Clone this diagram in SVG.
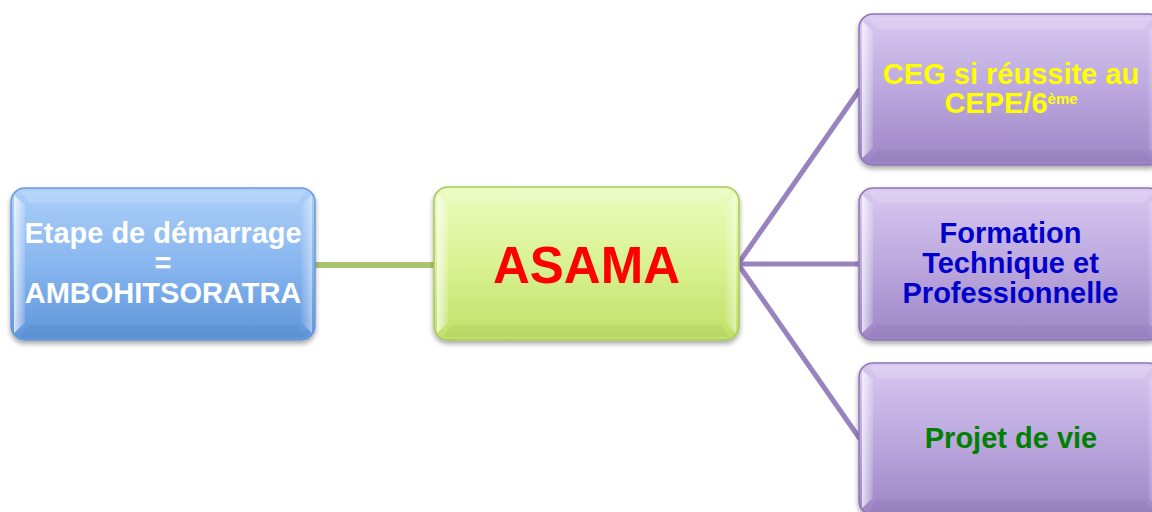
<svg xmlns="http://www.w3.org/2000/svg" width="1152" height="512" viewBox="0 0 1152 512">
  <defs>
    <linearGradient id="gBlue" x1="0" y1="0" x2="0" y2="1">
      <stop offset="0" stop-color="#acd0f9"/>
      <stop offset="0.5" stop-color="#88b6ef"/>
      <stop offset="1" stop-color="#5e95dc"/>
    </linearGradient>
    <linearGradient id="gGreen" x1="0" y1="0" x2="0" y2="1">
      <stop offset="0" stop-color="#ebfcbe"/>
      <stop offset="0.5" stop-color="#d9f292"/>
      <stop offset="1" stop-color="#c0df68"/>
    </linearGradient>
    <linearGradient id="gPurple" x1="0" y1="0" x2="0" y2="1">
      <stop offset="0" stop-color="#d8c9f0"/>
      <stop offset="0.5" stop-color="#bca8de"/>
      <stop offset="1" stop-color="#9d85c6"/>
    </linearGradient>
    <linearGradient id="gEdge" x1="0" y1="0" x2="1" y2="0">
      <stop offset="0" stop-color="#ffffff" stop-opacity="0.75"/>
      <stop offset="1" stop-color="#ffffff" stop-opacity="0.15"/>
    </linearGradient>
    <linearGradient id="gEdgeR" x1="1" y1="0" x2="0" y2="0">
      <stop offset="0" stop-color="#ffffff" stop-opacity="0.45"/>
      <stop offset="1" stop-color="#ffffff" stop-opacity="0.05"/>
    </linearGradient>
    <filter id="shadow" x="-10%" y="-10%" width="120%" height="130%">
      <feDropShadow dx="0" dy="3" stdDeviation="2.5" flood-color="#000" flood-opacity="0.35"/>
    </filter>
  </defs>
  <style>
    .box { stroke-width: 1.5; filter: url(#shadow); }
    .blue { fill: url(#gBlue); stroke: #6a9ad6; }
    .green { fill: url(#gGreen); stroke: #a9c95e; }
    .purple { fill: url(#gPurple); stroke: #8d76b7; }
    .bevL { fill: url(#gEdge); }
    .bevR { fill: url(#gEdgeR); }
    .bevT { fill: #ffffff; fill-opacity: 0.15; }
    .bevB { fill: #000000; fill-opacity: 0.04; }
    .lbl { font-family: "Liberation Sans", Arial, sans-serif; font-weight: bold; text-anchor: middle; }
    .conn-g { stroke: #abc56f; stroke-width: 6; fill: none; }
    .conn-p { stroke: #9983bf; stroke-width: 5; fill: none; stroke-linejoin: miter; }
  </style>

  <!-- connectors -->
  <g id="connectors">
    <line class="conn-g" x1="314" y1="265" x2="435" y2="265"/>
    <line class="conn-p" x1="738" y1="264" x2="860" y2="89"/>
    <line class="conn-p" x1="738" y1="264" x2="860" y2="264"/>
    <line class="conn-p" x1="738" y1="264" x2="860" y2="439"/>
  </g>

  <!-- start node -->
  <g id="node-demarrage">
    <rect class="box blue" x="11" y="188" width="304" height="152" rx="14"/>
    <polygon class="bevL" points="14,195 25,205 25,323 14,333"/>
    <polygon class="bevR" points="312,195 301,205 301,323 312,333"/>
    <polygon class="bevT" points="20,191 306,191 297,203 29,203"/>
    <polygon class="bevB" points="29,325 297,325 306,337 20,337"/>
    <g class="lbl" fill="#ffffff" font-size="29">
      <text x="163" y="243">Etape de démarrage</text>
      <text x="163" y="273">=</text>
      <text x="163" y="303">AMBOHITSORATRA</text>
    </g>
  </g>

  <!-- hub node -->
  <g id="node-asama">
    <rect class="box green" x="434" y="187" width="305" height="153" rx="14"/>
    <polygon class="bevL" points="437,194 448,204 448,323 437,333"/>
    <polygon class="bevR" points="736,194 725,204 725,323 736,333"/>
    <polygon class="bevT" points="443,190 730,190 721,202 452,202"/>
    <polygon class="bevB" points="452,325 721,325 730,337 443,337"/>
    <text class="lbl" x="586.5" y="283" fill="#ff0000" font-size="51">ASAMA</text>
  </g>

  <!-- branch: CEG -->
  <g id="node-ceg">
    <rect class="box purple" x="859" y="14" width="303" height="151" rx="14"/>
    <polygon class="bevL" points="862,21 873,31 873,148 862,158"/>
    <polygon class="bevR" points="1159,21 1148,31 1148,148 1159,158"/>
    <polygon class="bevT" points="868,17 1153,17 1144,29 877,29"/>
    <polygon class="bevB" points="877,150 1144,150 1153,162 868,162"/>
    <g class="lbl" fill="#ffff00" font-size="29">
      <text x="1011" y="84">CEG si réussite au</text>
      <text x="1011" y="113">CEPE/6<tspan font-size="15" dy="-9">ème</tspan></text>
    </g>
  </g>

  <!-- branch: formation -->
  <g id="node-formation">
    <rect class="box purple" x="859" y="188" width="303" height="152" rx="14"/>
    <polygon class="bevL" points="862,195 873,205 873,323 862,333"/>
    <polygon class="bevR" points="1159,195 1148,205 1148,323 1159,333"/>
    <polygon class="bevT" points="868,191 1153,191 1144,203 877,203"/>
    <polygon class="bevB" points="877,325 1144,325 1153,337 868,337"/>
    <g class="lbl" fill="#0000cc" font-size="29">
      <text x="1010.5" y="243">Formation</text>
      <text x="1010.5" y="273">Technique et</text>
      <text x="1010.5" y="303">Professionnelle</text>
    </g>
  </g>

  <!-- branch: projet -->
  <g id="node-projet">
    <rect class="box purple" x="859" y="363" width="303" height="152" rx="14"/>
    <polygon class="bevL" points="862,370 873,380 873,498 862,508"/>
    <polygon class="bevR" points="1159,370 1148,380 1148,498 1159,508"/>
    <polygon class="bevT" points="868,366 1153,366 1144,378 877,378"/>
    <polygon class="bevB" points="877,500 1144,500 1153,512 868,512"/>
    <text class="lbl" x="1011" y="448" fill="#008000" font-size="29">Projet de vie</text>
  </g>
</svg>
